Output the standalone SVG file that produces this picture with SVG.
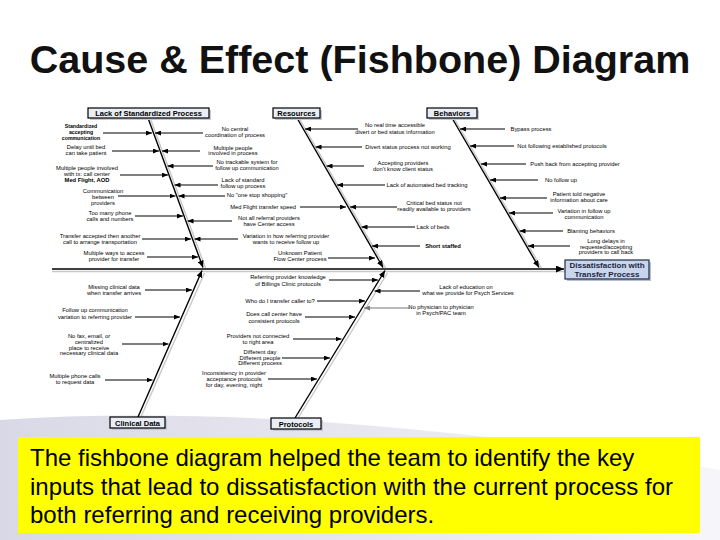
<svg xmlns="http://www.w3.org/2000/svg" width="720" height="540" viewBox="0 0 720 540">
<defs>
<linearGradient id="bg" x1="0" y1="0" x2="1" y2="0">
<stop offset="0" stop-color="#d9d8e6"/>
<stop offset="0.6" stop-color="#ebeaf2"/>
<stop offset="1" stop-color="#f6f6fa"/>
</linearGradient>
<marker id="ah" viewBox="0 0 6 5" refX="6" refY="2.5" markerWidth="6" markerHeight="5" markerUnits="userSpaceOnUse" orient="auto"><path d="M0,0 L6,2.5 L0,5 z" fill="#000"/></marker>
<marker id="ahg" viewBox="0 0 6 5" refX="6" refY="2.5" markerWidth="6" markerHeight="5" markerUnits="userSpaceOnUse" orient="auto"><path d="M0,0 L6,2.5 L0,5 z" fill="#777"/></marker>
<marker id="bh" viewBox="0 0 7 6" refX="7" refY="3" markerWidth="7" markerHeight="6" markerUnits="userSpaceOnUse" orient="auto"><path d="M0,0 L7,3 L0,6 z" fill="#000"/></marker>
<marker id="sh" viewBox="0 0 8 7" refX="8" refY="3.5" markerWidth="8" markerHeight="7" markerUnits="userSpaceOnUse" orient="auto"><path d="M0,0 L8,3.5 L0,7 z" fill="#000"/></marker>
</defs>
<style>
.c{font-family:"Liberation Sans",Arial,sans-serif;font-size:5.8px;fill:#000;text-anchor:middle}
.cb{font-weight:bold}
.cat{font-family:"Liberation Sans",Arial,sans-serif;font-size:7.5px;font-weight:bold;fill:#000;text-anchor:middle}
.box{fill:#e9edf5;stroke:#000;stroke-width:1.2}
.shd{fill:#c4c8d0}
.bone{stroke:#000;stroke-width:1.4;fill:none}
.bsh{stroke:#c8c8cc;stroke-width:1.4;fill:none}
.ar{stroke:#000;stroke-width:1.2;marker-end:url(#ah)}
.arg{stroke:#777;stroke-width:1.2;marker-end:url(#ahg)}
.title{font-family:"Liberation Sans",Arial,sans-serif;font-size:39.5px;font-weight:bold;fill:#111;text-anchor:middle}
.note{font-family:"Liberation Sans",Arial,sans-serif;font-size:24px;fill:#000}
</style>
<rect width="720" height="540" fill="#fff"/>
<path d="M0,420 Q300,400 720,470 L720,540 L0,540 Z" fill="url(#bg)"/>
<text class="title" x="360" y="73">Cause &amp; Effect (Fishbone) Diagram</text>

<g id="connectors">
<line x1="52" y1="271.5" x2="565" y2="271.5" stroke="#c8c8cc" stroke-width="1.5"/>
<line x1="52" y1="269" x2="564" y2="269" stroke="#000" stroke-width="1.5" marker-end="url(#sh)"/>
<line class="bsh" x1="150.5" y1="119" x2="205.5" y2="268"/>
<line class="bsh" x1="299.5" y1="119" x2="385.5" y2="268"/>
<line class="bsh" x1="454.5" y1="119" x2="541.5" y2="268"/>
<line class="bsh" x1="140.5" y1="418" x2="204.5" y2="273"/>
<line class="bsh" x1="297.5" y1="419" x2="387.5" y2="273"/>
<line class="bone" x1="148" y1="118" x2="203" y2="267.5" marker-end="url(#bh)"/>
<line class="bone" x1="297" y1="118" x2="383" y2="267.5" marker-end="url(#bh)"/>
<line class="bone" x1="452" y1="118" x2="539" y2="267.5" marker-end="url(#bh)"/>
<line class="bone" x1="138" y1="417" x2="202" y2="270.5" marker-end="url(#bh)"/>
<line class="bone" x1="295" y1="418" x2="385" y2="270.5" marker-end="url(#bh)"/>
<line class="ar" x1="103" y1="133" x2="152" y2="133"/>
<line class="ar" x1="112" y1="151" x2="159" y2="151"/>
<line class="ar" x1="120" y1="175" x2="168" y2="175"/>
<line class="ar" x1="118" y1="196" x2="175.5" y2="196"/>
<line class="ar" x1="135" y1="216" x2="183" y2="216"/>
<line class="ar" x1="142" y1="239" x2="191" y2="239"/>
<line class="ar" x1="147" y1="257" x2="198" y2="257"/>
<line class="ar" x1="203" y1="133" x2="155" y2="133"/>
<line class="ar" x1="200" y1="151" x2="162" y2="151"/>
<line class="ar" x1="213" y1="166" x2="167.5" y2="166"/>
<line class="ar" x1="218" y1="185" x2="174.5" y2="185"/>
<line class="ar" x1="225" y1="196" x2="178.5" y2="196"/>
<line class="ar" x1="232" y1="221" x2="187.5" y2="221"/>
<line class="ar" x1="238" y1="239" x2="194.5" y2="239"/>
<line class="ar" x1="300" y1="207" x2="346" y2="207"/>
<line class="ar" x1="328" y1="258" x2="375" y2="258"/>
<line class="ar" x1="358" y1="129" x2="305" y2="129"/>
<line class="ar" x1="362" y1="147" x2="315.5" y2="147"/>
<line class="ar" x1="364" y1="166" x2="326.5" y2="166"/>
<line class="ar" x1="385" y1="185" x2="337" y2="185"/>
<line class="ar" x1="397" y1="207" x2="350" y2="207"/>
<line class="ar" x1="415" y1="227" x2="361.5" y2="227"/>
<line class="ar" x1="420" y1="246" x2="372" y2="246"/>
<line class="ar" x1="505" y1="129" x2="460" y2="129"/>
<line class="ar" x1="514" y1="146" x2="470" y2="146"/>
<line class="ar" x1="526" y1="164" x2="481" y2="164"/>
<line class="ar" x1="538" y1="180" x2="490" y2="180"/>
<line class="ar" x1="547" y1="198" x2="500" y2="198"/>
<line class="ar" x1="553" y1="213" x2="509" y2="213"/>
<line class="ar" x1="563" y1="231" x2="519.5" y2="231"/>
<line class="ar" x1="570" y1="246" x2="528" y2="246"/>
<line class="ar" x1="145" y1="290" x2="192" y2="290"/>
<line class="ar" x1="135" y1="317" x2="180" y2="317"/>
<line class="ar" x1="122" y1="344" x2="168.5" y2="344"/>
<line class="ar" x1="105" y1="380" x2="152.5" y2="380"/>
<line class="ar" x1="329" y1="280" x2="378" y2="280"/>
<line class="ar" x1="317" y1="301" x2="365" y2="301"/>
<line class="ar" x1="305" y1="317" x2="355" y2="317"/>
<line class="ar" x1="293" y1="339" x2="341.5" y2="339"/>
<line class="ar" x1="282" y1="358" x2="330" y2="358"/>
<line class="ar" x1="268" y1="379" x2="317" y2="379"/>
<line class="ar" x1="420" y1="291" x2="374.5" y2="291"/>
<line class="arg" x1="410" y1="308" x2="364" y2="308"/>
</g>

<g id="cat-lsp"><rect class="shd" x="90" y="110" width="121" height="10"/><rect class="box" x="88" y="108" width="121" height="10"/><text class="cat" x="148.5" y="116">Lack of Standardized Process</text></g>
<g id="cat-resources"><rect class="shd" x="275" y="110" width="47" height="10"/><rect class="box" x="273" y="108" width="47" height="10"/><text class="cat" x="296.5" y="116">Resources</text></g>
<g id="cat-behaviors"><rect class="shd" x="429" y="110" width="50" height="10"/><rect class="box" x="427" y="108" width="50" height="10"/><text class="cat" x="452" y="116">Behaviors</text></g>
<g id="cat-clinical"><rect class="shd" x="112" y="419" width="55" height="11"/><rect class="box" x="110" y="417" width="55" height="11"/><text class="cat" x="137.5" y="425.5">Clinical Data</text></g>
<g id="cat-protocols"><rect class="shd" x="273" y="420" width="50" height="11"/><rect class="box" x="271" y="418" width="50" height="11"/><text class="cat" x="296" y="426.5">Protocols</text></g>
<g id="effect"><rect fill="#b8c0d0" x="567" y="262" width="84" height="19"/><rect x="565" y="260" width="84" height="19" fill="#c9d5ea" stroke="#1e2c4c" stroke-width="1.2"/><text class="cat" x="607" y="268" style="font-size:8px;fill:#1a2744">Dissatisfaction with</text><text class="cat" x="607" y="276.5" style="font-size:8px;fill:#1a2744">Transfer Process</text></g>

<g id="c-a1"><text class="c cb" style="font-size:5.2px"><tspan x="81" y="128">Standardized</tspan><tspan x="81" y="134">accepting</tspan><tspan x="81" y="140">communication</tspan></text></g>
<g id="c-a2"><text class="c"><tspan x="86" y="149">Delay until bed</tspan><tspan x="86" y="155">can take patient</tspan></text></g>
<g id="c-a3"><text class="c"><tspan x="87" y="170">Multiple people involved</tspan><tspan x="87" y="176">with tx: call center</tspan><tspan x="87" y="182" class="cb">Med Flight, AOD</tspan></text></g>
<g id="c-a4"><text class="c"><tspan x="103" y="192.5">Communication</tspan><tspan x="103" y="198.5">between</tspan><tspan x="103" y="204.5">providers</tspan></text></g>
<g id="c-a5"><text class="c"><tspan x="110" y="215">Too many phone</tspan><tspan x="110" y="221">calls and numbers</tspan></text></g>
<g id="c-a6"><text class="c"><tspan x="100" y="238">Transfer accepted then another</tspan><tspan x="100" y="244">call to arrange transportation</tspan></text></g>
<g id="c-a7"><text class="c"><tspan x="114" y="255">Multiple ways to access</tspan><tspan x="114" y="260.5">provider for transfer</tspan></text></g>
<g id="c-b1"><text class="c"><tspan x="235" y="130.5">No central</tspan><tspan x="235" y="136.5">coordination of process</tspan></text></g>
<g id="c-b2"><text class="c"><tspan x="233" y="149.5">Multiple people</tspan><tspan x="233" y="155">involved in process</tspan></text></g>
<g id="c-b3"><text class="c"><tspan x="247" y="164">No trackable system for</tspan><tspan x="247" y="170">follow up communication</tspan></text></g>
<g id="c-b4"><text class="c"><tspan x="243" y="181.5">Lack of standard</tspan><tspan x="243" y="187.5">follow up process</tspan></text></g>
<g id="c-b5"><text class="c" x="257" y="197">No "one stop shopping"</text></g>
<g id="c-b6"><text class="c"><tspan x="269" y="220">Not all referral providers</tspan><tspan x="269" y="226">have Center access</tspan></text></g>
<g id="c-b7"><text class="c"><tspan x="286" y="238">Variation in how referring provider</tspan><tspan x="286" y="244">wants to receive follow up</tspan></text></g>
<g id="c-c1"><text class="c" x="263" y="208.5">Med Flight transfer speed</text></g>
<g id="c-c2"><text class="c"><tspan x="300" y="255">Unknown Patient</tspan><tspan x="300" y="261">Flow Center process</tspan></text></g>
<g id="c-d1"><text class="c"><tspan x="395" y="127">No real time accessible</tspan><tspan x="395" y="133.5">divert or bed status information</tspan></text></g>
<g id="c-d2"><text class="c" x="408" y="149">Divert status process not working</text></g>
<g id="c-d3"><text class="c"><tspan x="403" y="164.5">Accepting providers</tspan><tspan x="403" y="170.5">don't know client status</tspan></text></g>
<g id="c-d4"><text class="c" x="427" y="187">Lack of automated bed tracking</text></g>
<g id="c-d5"><text class="c"><tspan x="434" y="205">Critical bed status not</tspan><tspan x="434" y="211">readily available to providers</tspan></text></g>
<g id="c-d6"><text class="c" x="433" y="229">Lack of beds</text></g>
<g id="c-d7"><text class="c cb" x="443" y="248">Short staffed</text></g>
<g id="c-e1"><text class="c" x="531" y="131">Bypass process</text></g>
<g id="c-e2"><text class="c" x="562" y="148">Not following established protocols</text></g>
<g id="c-e3"><text class="c" x="575" y="166">Push back from accepting provider</text></g>
<g id="c-e4"><text class="c" x="561" y="182">No follow up</text></g>
<g id="c-e5"><text class="c"><tspan x="579" y="196">Patient told negative</tspan><tspan x="579" y="202">information about care</tspan></text></g>
<g id="c-e6"><text class="c"><tspan x="584" y="213">Variation in follow up</tspan><tspan x="584" y="219">communication</tspan></text></g>
<g id="c-e7"><text class="c" x="591" y="233">Blaming behaviors</text></g>
<g id="c-e8"><text class="c"><tspan x="606" y="243">Long delays in</tspan><tspan x="606" y="248.5">requested/accepting</tspan><tspan x="606" y="254">providers to call back</tspan></text></g>
<g id="c-f1"><text class="c"><tspan x="114" y="289">Missing clinical data</tspan><tspan x="114" y="295">when transfer arrives</tspan></text></g>
<g id="c-f2"><text class="c"><tspan x="95" y="312">Follow up communication</tspan><tspan x="95" y="318.5">variation to referring provider</tspan></text></g>
<g id="c-f3"><text class="c"><tspan x="89" y="338">No fax, email, or</tspan><tspan x="89" y="343.5">centralized</tspan><tspan x="89" y="349.5">place to receive</tspan><tspan x="89" y="355">necessary clinical data</tspan></text></g>
<g id="c-f4"><text class="c"><tspan x="75" y="378">Multiple phone calls</tspan><tspan x="75" y="384">to request data</tspan></text></g>
<g id="c-g1"><text class="c"><tspan x="288" y="279">Referring provider knowledge</tspan><tspan x="288" y="285.5">of Billings Clinic protocols</tspan></text></g>
<g id="c-g2"><text class="c" x="280" y="302.5">Who do I transfer caller to?</text></g>
<g id="c-g3"><text class="c"><tspan x="274" y="316">Does call center have</tspan><tspan x="274" y="322.5">consistent protocols</tspan></text></g>
<g id="c-g4"><text class="c"><tspan x="258" y="338">Providers not connected</tspan><tspan x="258" y="344">to right area</tspan></text></g>
<g id="c-g5"><text class="c"><tspan x="260" y="354">Different day</tspan><tspan x="260" y="359.5">Different people</tspan><tspan x="260" y="365">Different process</tspan></text></g>
<g id="c-g6"><text class="c"><tspan x="234" y="375">Inconsistency in provider</tspan><tspan x="234" y="381">acceptance protocols</tspan><tspan x="234" y="387">for day, evening, night</tspan></text></g>
<g id="c-h1"><text class="c"><tspan x="466" y="289">Lack of education on</tspan><tspan x="468" y="295">what we provide for Psych Services</tspan></text></g>
<g id="c-h2"><text class="c"><tspan x="441" y="309">No physician to physician</tspan><tspan x="441" y="314.5">in Psych/PAC team</tspan></text></g>

<g id="note">
<rect x="18" y="437" width="682" height="96" fill="#ffff00"/>
<text class="note" x="30" y="466">The fishbone diagram helped the team to identify the key</text>
<text class="note" x="30" y="494.5">inputs that lead to dissatisfaction with the current process for</text>
<text class="note" x="30" y="523">both referring and receiving providers.</text>
</g>
</svg>
